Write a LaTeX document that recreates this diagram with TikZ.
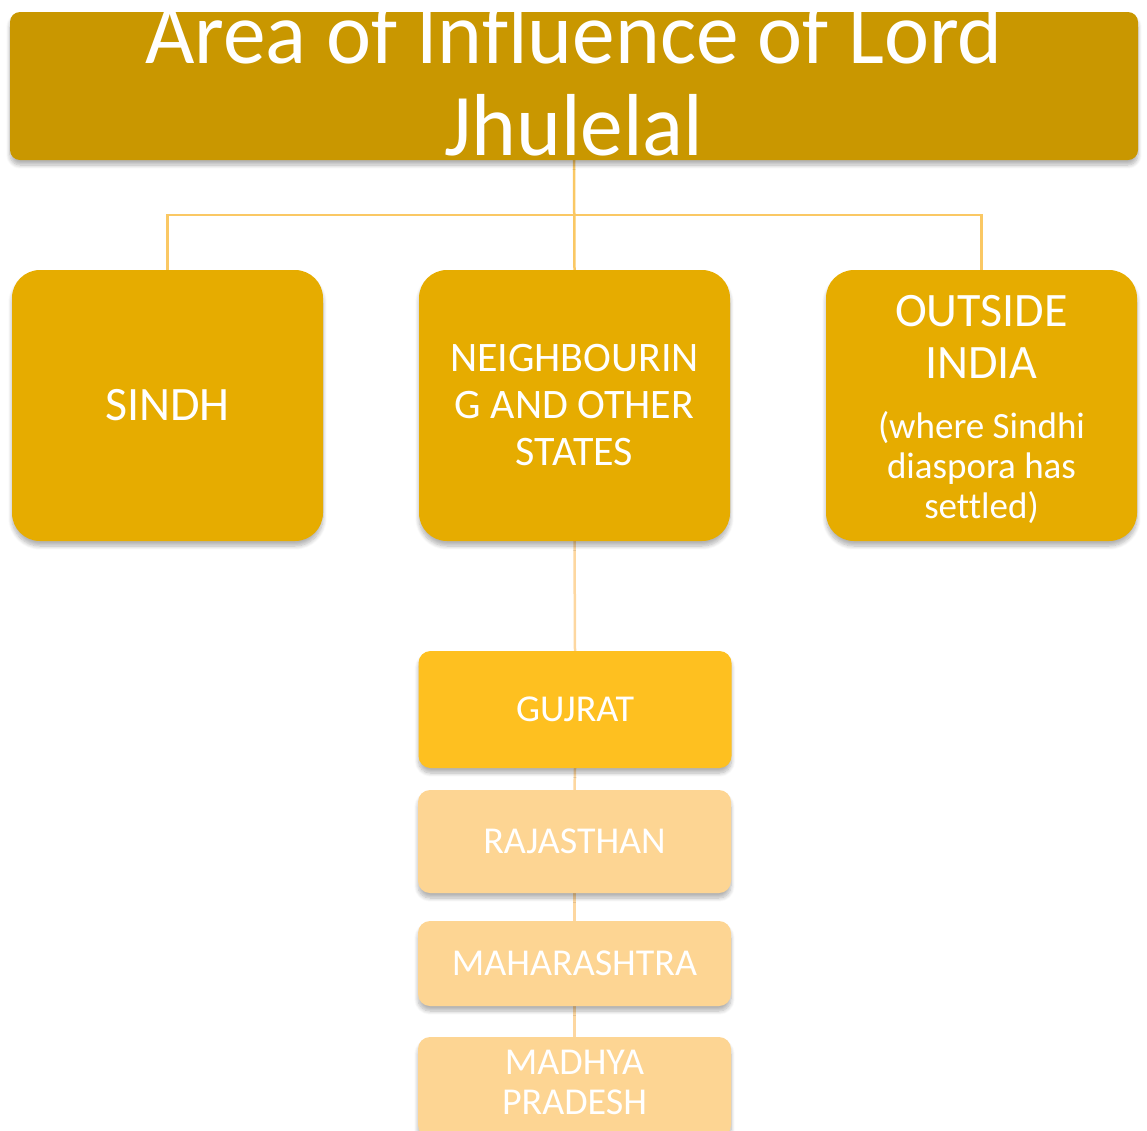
\documentclass[tikz,border=0pt]{standalone}
\usepackage{fontspec}
\setmainfont{Carlito}[Ligatures=NoCommon]
\usetikzlibrary{backgrounds,shadows.blur}
\definecolor{titlegold}{RGB}{201,151,0}
\definecolor{levelgold}{RGB}{230,172,0}
\definecolor{stategold}{RGB}{254,192,32}
\definecolor{statepale}{RGB}{253,213,147}
\definecolor{linkgold}{RGB}{250,200,100}
\definecolor{linkpale}{RGB}{253,215,160}
\tikzset{
  shade/.style={blur shadow={shadow xshift=0pt,shadow yshift=-5pt,shadow blur steps=8,shadow blur radius=4pt,shadow opacity=30}},
  titlebox/.style={rectangle,rounded corners=10pt,fill=titlegold,minimum width=1128pt,minimum height=148pt,inner sep=0pt,shade},
  titletext/.style={text=white,font=\fontsize{88}{92}\selectfont,inner sep=0pt},
  levelbox/.style={rectangle,rounded corners=28pt,fill=levelgold,minimum width=311pt,minimum height=271pt,
    inner sep=0pt,text=white,align=center,shade},
  statebox/.style={rectangle,rounded corners=12pt,minimum width=313pt,inner sep=0pt,text=white,align=center,
    font=\fontsize{38}{40}\selectfont,shade},
  link/.style={draw=linkgold,line width=2.5pt},
  palelink/.style={draw=linkpale,line width=2.5pt},
}
\begin{document}
\begin{tikzpicture}[x=1pt,y=-1pt]
\useasboundingbox (0,0) rectangle (1147,1130);
% top heading
\node[titlebox] (title) at (574,86) {};
\node[titletext,anchor=base] (head1) at (574,63) {\scalebox{0.97}[1]{Area of Influence of Lord}};
\node[titletext,anchor=base] (head2) at (574,155) {\scalebox{0.97}[1]{Jhulelal}};
% three regions
\node[levelbox,font=\fontsize{48}{52}\selectfont] (sindh) at (167.5,405.5) {SINDH};
\node[levelbox,font=\fontsize{42}{47}\selectfont] (neigh) at (574.5,405.5) {NEIGHBOURIN\\G AND OTHER\\STATES};
\node[levelbox,font=\fontsize{48}{52}\selectfont] (outside) at (981.5,405.5)
  {\mbox{}\\[-13pt]OUTSIDE\\INDIA\\[8pt]\fontsize{37}{40}\selectfont (where Sindhi\\[-12pt]\fontsize{37}{40}\selectfont diaspora has\\[-12pt]\fontsize{37}{40}\selectfont settled)};
% states
\node[statebox,fill=stategold,minimum height=117pt] (gujrat) at (575,709.5) {GUJRAT};
\node[statebox,fill=statepale,minimum height=103pt] (rajasthan) at (574.5,841.5) {RAJASTHAN};
\node[statebox,fill=statepale,minimum height=85pt] (maha) at (574.5,963.5) {MAHARASHTRA};
\node[statebox,fill=statepale,minimum height=100pt] (mp) at (574.5,1087) {MADHYA\\PRADESH\\[-30pt]\mbox{}};
% connectors
\coordinate (bar) at (574,215);
\begin{scope}[on background layer]
  \draw[link] (title.south) -- (neigh.north);
  \draw[link] (sindh.north) |- (bar) -| (outside.north);
  \draw[palelink] (neigh.south) -- (gujrat.north);
  \draw[palelink] (gujrat.south) -- (rajasthan.north);
  \draw[palelink] (rajasthan.south) -- (maha.north);
  \draw[palelink] (maha.south) -- (mp.north);
\end{scope}
\end{tikzpicture}
\end{document}
